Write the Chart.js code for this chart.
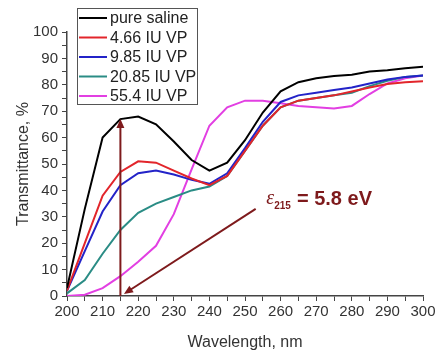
<!DOCTYPE html>
<html>
<head>
<meta charset="utf-8">
<script src="https://cdn.jsdelivr.net/npm/chart.js@4.4.1/dist/chart.umd.min.js"></script>
<style>
  html, body { margin: 0; padding: 0; background: #fff; }
  #wrap { width: 438px; height: 352px; position: relative; }
</style>
</head>
<body>
<div id="wrap"><canvas id="chart" width="438" height="352"></canvas></div>
<script>
// wavelength grid, nm
const wavelengths = [200, 205, 210, 215, 220, 225, 230, 235, 240, 245, 250, 255, 260, 265, 270, 275, 280, 285, 290, 295, 300];

// transmittance, %
const pureSaline = [3, 33, 60, 67, 68, 65, 58.5, 51.5, 47.5, 50.5, 59, 69.5, 77.5, 81, 82.5, 83.3, 83.8, 85, 85.5, 86.3, 86.8];
const vp466 = [2, 20, 38, 47, 51, 50.5, 47.5, 44.5, 42, 45.5, 55, 64.5, 71.5, 74, 75, 76, 77.5, 79, 80.3, 81, 81.3];
const vp985 = [2, 17, 32, 42, 46.5, 47.5, 46, 44, 42.5, 46.5, 56, 66, 73.5, 76, 77, 78, 79, 80.5, 82, 83, 83.5];
const vp2085 = [1, 6, 16, 25, 31.5, 35, 37.5, 40, 41.5, 45.5, 55, 64.5, 71.5, 74, 75, 76, 77, 79.5, 81.5, 83, 83.5];
const vp554 = [0, 0.5, 3, 7.5, 13, 19, 31, 48, 64.5, 71.5, 74, 74, 73, 72, 71.5, 71, 72, 76.5, 80.5, 82.5, 83.5];

const seriesLabels = ['pure saline', '4.66 IU VP', '9.85 IU VP', '20.85 IU VP', '55.4 IU VP'];
const seriesColors = ['#000000', '#e2252b', '#2323c8', '#2a8c85', '#e23fe2'];

// annotation arrows [x0, y0, x1, y1] in data units, head at the second point
const arrowUp = [215, 0, 215, 67];
const arrowDiag = [253, 33, 216, 0.8];
const noteAt = [256, 34];

const FONT = "Arial, 'Liberation Sans', sans-serif";
const MAROON = '#7e1a1c';

const allSeries = [pureSaline, vp466, vp985, vp2085, vp554];

function drawArrow(ctx, x0, y0, x1, y1) {
    const ang = Math.atan2(y1 - y0, x1 - x0);
    const head = 9, half = 4;
    ctx.beginPath();
    ctx.moveTo(x0, y0);
    ctx.lineTo(x1 - Math.cos(ang) * head * 0.8, y1 - Math.sin(ang) * head * 0.8);
    ctx.stroke();
    ctx.beginPath();
    ctx.moveTo(x1, y1);
    ctx.lineTo(x1 - Math.cos(ang) * head - Math.sin(ang) * half, y1 - Math.sin(ang) * head + Math.cos(ang) * half);
    ctx.lineTo(x1 - Math.cos(ang) * head + Math.sin(ang) * half, y1 - Math.sin(ang) * head - Math.cos(ang) * half);
    ctx.closePath();
    ctx.fill();
}

const annotations = {
    id: 'annotations',
    afterDatasetsDraw(chart) {
        const { ctx, scales: { x, y } } = chart;
        ctx.save();
        ctx.strokeStyle = MAROON;
        ctx.fillStyle = MAROON;
        ctx.lineWidth = 2;
        [arrowUp, arrowDiag].forEach(a => {
            drawArrow(ctx, x.getPixelForValue(a[0]), y.getPixelForValue(a[1]),
                x.getPixelForValue(a[2]), y.getPixelForValue(a[3]));
        });

        let tx = x.getPixelForValue(noteAt[0]);
        const ty = y.getPixelForValue(noteAt[1]);
        ctx.textBaseline = 'alphabetic';
        ctx.textAlign = 'left';
        ctx.font = "italic 20px 'Liberation Serif', 'DejaVu Serif', serif";
        ctx.fillText('\u03b5', tx, ty - 2);
        tx += ctx.measureText('\u03b5').width;
        ctx.font = "bold 10px " + FONT;
        ctx.fillText('215', tx, ty + 3);
        tx += ctx.measureText('215').width + 6;
        ctx.font = "bold 20px " + FONT;
        ctx.fillText('= 5.8 eV', tx, ty - 1);
        ctx.restore();
    }
};

const boxLegend = {
    id: 'boxLegend',
    afterDraw(chart) {
        const ctx = chart.ctx;
        const left = 77, top = 8, w = 120, h = 96, rowH = 19.5;
        ctx.save();
        ctx.fillStyle = '#fff';
        ctx.fillRect(left, top, w, h);
        ctx.strokeStyle = '#555';
        ctx.lineWidth = 1;
        ctx.strokeRect(left + 0.5, top + 0.5, w, h);
        ctx.font = '16px ' + FONT;
        ctx.textBaseline = 'middle';
        ctx.textAlign = 'left';
        chart.data.datasets.forEach((ds, i) => {
            const cy = top + 10 + i * rowH;
            ctx.strokeStyle = ds.borderColor;
            ctx.lineWidth = 2;
            ctx.beginPath();
            ctx.moveTo(left + 2, cy);
            ctx.lineTo(left + 30, cy);
            ctx.stroke();
            ctx.fillStyle = '#222';
            ctx.fillText(ds.label, left + 33, cy + 1);
        });
        ctx.restore();
    }
};

const datasets = allSeries.map((vals, i) => ({
    label: seriesLabels[i],
    data: wavelengths.map((w, j) => ({ x: w, y: vals[j] })),
    borderColor: seriesColors[i],
    backgroundColor: seriesColors[i],
    borderWidth: 2,
    pointRadius: 0,
    tension: 0,
    fill: false
}));

const tickEveryTen = v => (v % 10 === 0 ? String(v) : '');

new Chart(document.getElementById('chart'), {
    type: 'line',
    data: { datasets },
    options: {
        responsive: false,
        animation: false,
        events: [],
        layout: { padding: { top: 32, right: 15, left: 0, bottom: 0 } },
        plugins: { legend: { display: false }, tooltip: { enabled: false } },
        scales: {
            x: {
                type: 'linear',
                min: 200,
                max: 300,
                afterFit: s => { s.height = 56; },
                ticks: { stepSize: 5, autoSkip: false, maxRotation: 0, padding: 2, color: '#333', font: { family: FONT, size: 15 }, callback: tickEveryTen },
                grid: { drawOnChartArea: false, drawTicks: true, tickLength: 5, color: '#444' },
                border: { color: '#444', width: 1.5 },
                title: { display: true, text: 'Wavelength, nm', color: '#333', font: { family: FONT, size: 16 }, padding: { top: 6, bottom: 0 } }
            },
            y: {
                min: 0,
                max: 100,
                afterFit: s => { s.width = 67; },
                ticks: { stepSize: 5, autoSkip: false, padding: 4, color: '#333', font: { family: FONT, size: 15 }, callback: tickEveryTen },
                grid: { drawOnChartArea: false, drawTicks: true, tickLength: 5, color: '#444' },
                border: { color: '#444', width: 1.5 },
                title: { display: true, text: 'Transmittance, %', color: '#333', font: { family: FONT, size: 16 }, padding: { top: 14, bottom: 0 } }
            }
        }
    },
    plugins: [annotations, boxLegend]
});
</script>
</body>
</html>
